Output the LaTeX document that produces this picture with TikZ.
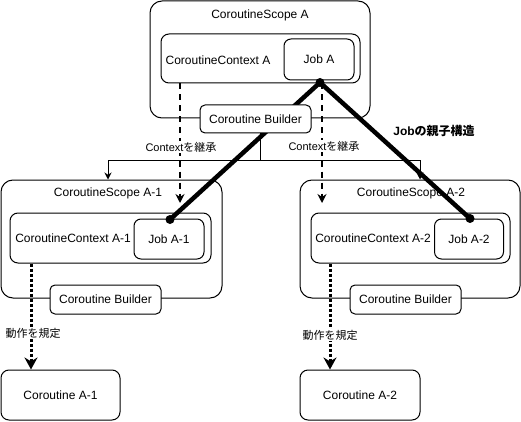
\documentclass[tikz,border=0pt]{standalone}
\usepackage{fontspec}
\setmainfont{Liberation Sans}
\newfontfamily\jpfont{Noto Sans CJK JP}
\usetikzlibrary{arrows.meta,calc}
\tikzset{
  box/.style={draw, line width=1pt, fill=white, inner sep=0pt},
  scopebox/.style={box, rounded corners=12pt},
  ctxbox/.style={box, rounded corners=8pt},
  jobbox/.style={box, rounded corners=7pt},
  bldbox/.style={box, rounded corners=5pt},
  txt/.style={font=\fontsize{12}{14}\selectfont, inner sep=0pt},
  lbl/.style={font=\fontsize{11}{13}\selectfont, fill=white, inner sep=1pt},
  tree/.style={line width=1pt, -{Stealth[length=7pt,width=7pt]}},
  inh/.style={line width=2pt, dash pattern=on 6pt off 5pt, -{Stealth[length=9pt,width=9pt]}},
  beh/.style={line width=3pt, dash pattern=on 3pt off 2pt, -{Stealth[length=12pt,width=13pt]}},
  jobline/.style={line width=4.5pt},
}
\begin{document}
\begin{tikzpicture}[x=1pt,y=-1pt]
\useasboundingbox (0,0) rectangle (521,422);
% scopes
\node[scopebox, minimum width=220pt, minimum height=117pt] (scA) at (260,59.5) {};
\node[scopebox, minimum width=221pt, minimum height=118pt] (scA1) at (111.5,239) {};
\node[scopebox, minimum width=220pt, minimum height=118pt] (scA2) at (410,239) {};
\node[txt] (tA) at (260,15) {CoroutineScope A};
\node[txt] (tA1) at (108,193) {CoroutineScope A-1};
\node[txt] (tA2) at (411,193) {CoroutineScope A-2};
% contexts
\node[ctxbox, minimum width=199pt, minimum height=49pt] (cxA) at (260.5,58.5) {};
\node[ctxbox, minimum width=201pt, minimum height=50pt] (cxA1) at (110.5,238) {};
\node[ctxbox, minimum width=199pt, minimum height=50pt] (cxA2) at (410.5,238) {};
\node[txt] (tcA) at (218,60) {CoroutineContext A};
\node[txt] (tcA1) at (73,238) {CoroutineContext A-1};
\node[txt] (tcA2) at (373,238) {CoroutineContext A-2};
% jobs
\node[jobbox, txt, minimum width=70pt, minimum height=41pt] (jA) at (319,59.5) {Job A};
\node[jobbox, txt, minimum width=70pt, minimum height=40pt] (jA1) at (169,239) {Job A-1};
\node[jobbox, txt, minimum width=69pt, minimum height=40pt] (jA2) at (469,239) {Job A-2};
% tree connector
\coordinate (k) at (0,160);
\draw[tree] (scA.south) -- (scA.south |- k) -| ([xshift=-3.5pt]scA1.north);
\draw[tree] (scA.south |- k) -| ([xshift=10pt]scA2.north);
% inherit arrows
\coordinate (d1) at (180,203);
\coordinate (d2) at (322,203);
\draw[inh] (cxA.south -| d1) -- (d1);
\draw[inh] (cxA.south -| d2) -- (d2);
% job hierarchy
\draw[jobline] ([xshift=1pt,yshift=-2pt]jA.south) -- ([xshift=1pt,yshift=-1pt]jA1.north);
\draw[jobline] ([xshift=1pt,yshift=-2pt]jA.south) -- ([xshift=1pt]jA2.north);
\fill ([xshift=1pt,yshift=-2pt]jA.south) circle (4.5pt);
\fill ([xshift=1pt,yshift=-1pt]jA1.north) circle (4.5pt);
\fill ([xshift=1pt]jA2.north) circle (4.5pt);
% builders
\node[bldbox, txt, minimum width=111pt, minimum height=28pt] (bA) at (255.5,119) {Coroutine Builder};
\node[bldbox, txt, minimum width=111pt, minimum height=29pt] (bA1) at (105.5,299.5) {Coroutine Builder};
\node[bldbox, txt, minimum width=111pt, minimum height=29pt] (bA2) at (405.5,299.5) {Coroutine Builder};
% coroutines
\node[ctxbox, txt, minimum width=119pt, minimum height=50pt] (coA1) at (60.5,395) {Coroutine A-1};
\node[ctxbox, txt, minimum width=120pt, minimum height=50pt] (coA2) at (360,395) {Coroutine A-2};
% behaviour arrows
\coordinate (e1) at (31,0);
\coordinate (e2) at (330,0);
\draw[beh] (cxA1.south -| e1) -- (coA1.north -| e1);
\draw[beh] (cxA2.south -| e2) -- (coA2.north -| e2);
% labels
\node[lbl] (l1) at (181,147) {Context{\jpfont を継承}};
\node[lbl] (l2) at (324,146) {Context{\jpfont を継承}};
\node[lbl] (l3) at (33,333) {\jpfont 動作を規定};
\node[lbl] (l4) at (330,335) {\jpfont 動作を規定};
\node[font=\bfseries\fontsize{12}{14}\selectfont, inner sep=0pt] (l5) at (434,131) {Job{\jpfont の親子構造}};
\end{tikzpicture}
\end{document}
